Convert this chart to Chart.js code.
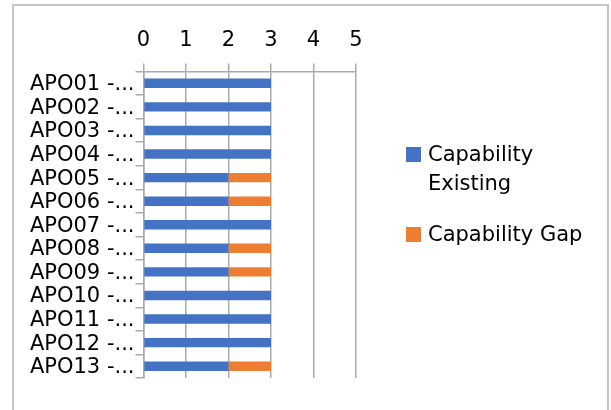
<!DOCTYPE html>
<html>
<head>
<meta charset="utf-8">
<script src="https://cdn.jsdelivr.net/npm/chart.js@4"></script>
<style>
  html, body { margin: 0; padding: 0; background: #fff; }
  #wrap { position: relative; width: 611px; height: 410px; overflow: hidden; }
  #frame { position: absolute; left: 12px; top: 4px; width: 597px; height: 420px; border: 2px solid #c6c6c6; box-sizing: border-box; }
  #c { position: absolute; left: 0; top: 0; }
  .lg { position: absolute; left: 406px; font-family: "DejaVu Sans", sans-serif; font-size: 21px; line-height: 29px; color: #000; }
  .lg .sw { position: absolute; left: 0; top: 7px; width: 15px; height: 15px; }
  .lg .tx { position: absolute; left: 22px; top: 0; width: 175px; }
</style>
</head>
<body>
<div id="wrap">
  <div id="frame"></div>
  <canvas id="c" width="611" height="410"></canvas>
  <div class="lg" style="top:140px"><div class="sw" style="background:#4472C4"></div><div class="tx">Capability Existing</div></div>
  <div class="lg" style="top:220px"><div class="sw" style="background:#ED7D31"></div><div class="tx">Capability Gap</div></div>
</div>
<script>
const categories = ["APO01 -...", "APO02 -...", "APO03 -...", "APO04 -...", "APO05 -...", "APO06 -...", "APO07 -...", "APO08 -...", "APO09 -...", "APO10 -...", "APO11 -...", "APO12 -...", "APO13 -..."];
const capabilityExisting = [3, 3, 3, 3, 2, 2, 3, 2, 2, 3, 3, 3, 2];
const capabilityGap = [0, 0, 0, 0, 1, 1, 0, 1, 1, 0, 0, 0, 1];
const seriesNames = ["Capability Existing", "Capability Gap"];
const xMin = 0, xMax = 5, xStep = 1;

const FONT = { family: "DejaVu Sans", size: 21 };
const GRID = "#aaaaaa";

new Chart(document.getElementById("c"), {
  type: "bar",
  data: {
    labels: categories,
    datasets: [
      { label: seriesNames[0], data: capabilityExisting, backgroundColor: "#4472C4", borderWidth: 0, barPercentage: 0.4, categoryPercentage: 1 },
      { label: seriesNames[1], data: capabilityGap, backgroundColor: "#ED7D31", borderWidth: 0, barPercentage: 0.4, categoryPercentage: 1 }
    ]
  },
  options: {
    indexAxis: "y",
    responsive: false,
    animation: false,
    layout: { padding: { left: 0, top: 0, right: 255, bottom: 32 } },
    plugins: { legend: { display: false }, tooltip: { enabled: false } },
    scales: {
      x: {
        position: "top",
        stacked: true,
        min: xMin, max: xMax,
        ticks: { stepSize: xStep, color: "#000", font: FONT, padding: 10 },
        grid: { color: GRID, lineWidth: 1.5, tickLength: 8, drawTicks: true },
        border: { color: GRID, width: 1.5 },
        afterFit: (s) => { s.height = 71.5; }
      },
      y: {
        stacked: true,
        ticks: { color: "#000", font: FONT, padding: 1, autoSkip: false, labelOffset: 1.5 },
        grid: { color: GRID, lineWidth: 1.5, tickLength: 8, drawOnChartArea: false, offset: true },
        border: { color: GRID, width: 1.5 },
        afterFit: (s) => { s.width = 143.5; }
      }
    }
  }
});
</script>
</body>
</html>
